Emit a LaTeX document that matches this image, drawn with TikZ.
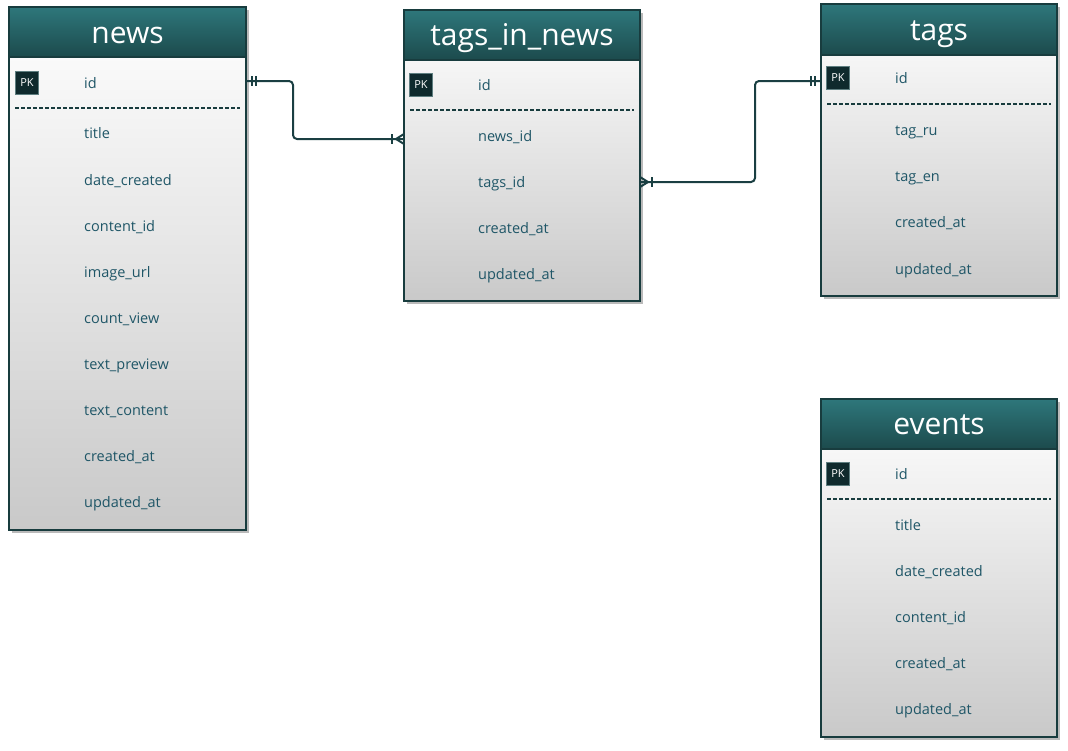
\documentclass[tikz,border=0pt]{standalone}
\usepackage{fontspec}
\setmainfont{Open Sans}
\usetikzlibrary{shadows}
\definecolor{hdtop}{HTML}{2E777B}
\definecolor{hdbot}{HTML}{1C4A4C}
\definecolor{bord}{HTML}{183C3E}
\definecolor{bodybot}{HTML}{C9C9C9}
\definecolor{ftext}{HTML}{1F5667}
\definecolor{pkfill}{HTML}{0F2A2D}
\definecolor{pkbord}{HTML}{5E7E80}
\definecolor{conncol}{HTML}{1A3F42}
\tikzset{
  x=1pt,y=-1pt,
  tbl/.style={rectangle, anchor=north west, inner sep=0pt, outer sep=0pt,
    top color=white, bottom color=bodybot,
    drop shadow={shadow xshift=2.5pt, shadow yshift=-2.5pt, opacity=0.45, fill=black!60}},
  hdr/.style={rectangle, anchor=north west, inner sep=0pt, outer sep=0pt,
    top color=hdtop, bottom color=hdbot},
  htitle/.style={anchor=base, inner sep=0pt, text=white, font=\fontsize{30}{34}\selectfont},
  border/.style={draw=bord, line width=2.2pt},
  hline/.style={draw=bord, line width=1.6pt},
  field/.style={anchor=base west, yshift=-5pt, inner sep=0pt, text=ftext, font=\fontsize{14.5}{16}\selectfont},
  pk/.style={rectangle, draw=pkbord, line width=0.8pt, fill=pkfill, text=white,
    minimum width=23pt, minimum height=23pt, inner sep=0pt, font=\fontsize{11}{12}\selectfont},
  dashsep/.style={draw=bord, line width=1.5pt, dash pattern=on 4pt off 2pt},
  conn/.style={draw=conncol, line width=2pt, rounded corners=4pt},
  tick/.style={draw=conncol, line width=2pt},
}
\begin{document}
\begin{tikzpicture}
\useasboundingbox (0,0) rectangle (1068,750);
% ---------------- news ----------------
\node[tbl, minimum width=237pt, minimum height=523pt] (news) at (9,7) {};
\node[hdr, minimum width=237pt, minimum height=50pt] (newsh) at (9,7) {};
\node[htitle] (newst) at ([yshift=-36pt]newsh.north) {news};
\draw[hline] (newsh.south west) -- (newsh.south east);
\draw[border] (news.north west) rectangle (news.south east);
\node[pk] (newspk) at (27,83) {PK};
\node[field] (newsid) at (84,83) {id};
\draw[dashsep] (15,108) -- (240,108);
\node[field] (news1) at (84,133) {title};
\node[field] (news2) at (84,180) {date\_created};
\node[field] (news3) at (84,226) {content\_id};
\node[field] (news4) at (84,272) {image\_url};
\node[field] (news5) at (84,318) {count\_view};
\node[field] (news6) at (84,364) {text\_preview};
\node[field] (news7) at (84,410) {text\_content};
\node[field] (news8) at (84,456) {created\_at};
\node[field] (news9) at (84,502) {updated\_at};
% ---------------- tags_in_news ----------------
\node[tbl, minimum width=236pt, minimum height=291pt] (tin) at (404,10) {};
\node[hdr, minimum width=236pt, minimum height=50pt] (tinh) at (404,10) {};
\node[htitle] (tint) at ([yshift=-35pt]tinh.north) {tags\_in\_news};
\draw[hline] (tinh.south west) -- (tinh.south east);
\draw[border] (tin.north west) rectangle (tin.south east);
\node[pk] (tinpk) at (421,85) {PK};
\node[field] (tinid) at (478,85) {id};
\draw[dashsep] (410,110) -- (634,110);
\node[field] (tin1) at (478,136) {news\_id};
\node[field] (tin2) at (478,182) {tags\_id};
\node[field] (tin3) at (478,228) {created\_at};
\node[field] (tin4) at (478,274) {updated\_at};
% ---------------- tags ----------------
\node[tbl, minimum width=236pt, minimum height=292pt] (tags) at (821,4) {};
\node[hdr, minimum width=236pt, minimum height=51pt] (tagsh) at (821,4) {};
\node[htitle] (tagst) at ([yshift=-36pt]tagsh.north) {tags};
\draw[hline] (tagsh.south west) -- (tagsh.south east);
\draw[border] (tags.north west) rectangle (tags.south east);
\node[pk] (tagspk) at (838,78) {PK};
\node[field] (tagsid) at (895,78) {id};
\draw[dashsep] (827,104) -- (1051,104);
\node[field] (tags1) at (895,130) {tag\_ru};
\node[field] (tags2) at (895,176) {tag\_en};
\node[field] (tags3) at (895,222) {created\_at};
\node[field] (tags4) at (895,269) {updated\_at};
% ---------------- events ----------------
\node[tbl, minimum width=236pt, minimum height=338pt] (ev) at (821,399) {};
\node[hdr, minimum width=236pt, minimum height=50pt] (evh) at (821,399) {};
\node[htitle] (evt) at ([yshift=-35pt]evh.north) {events};
\draw[hline] (evh.south west) -- (evh.south east);
\draw[border] (ev.north west) rectangle (ev.south east);
\node[pk] (evpk) at (838,474) {PK};
\node[field] (evid) at (895,474) {id};
\draw[dashsep] (827,499) -- (1051,499);
\node[field] (ev1) at (895,525) {title};
\node[field] (ev2) at (895,571) {date\_created};
\node[field] (ev3) at (895,617) {content\_id};
\node[field] (ev4) at (895,663) {created\_at};
\node[field] (ev5) at (895,709) {updated\_at};
% ---------------- connectors ----------------
\coordinate (a1) at ([yshift=2pt]news.east |- newspk);
\coordinate (a2) at ([yshift=2pt]tin.west |- tin1.base);
\draw[conn] (a1) -- ++(47,0) |- (a2);
\draw[tick] ([xshift=6pt]a1) ++(0,-5) -- ++(0,10);
\draw[tick] ([xshift=10pt]a1) ++(0,-5) -- ++(0,10);
\draw[tick] ([xshift=-12pt]a2) ++(0,-5) -- ++(0,10);
\draw[tick] ([xshift=-8pt]a2) -- ++(8,-5);
\draw[tick] ([xshift=-8pt]a2) -- ++(8,5);
\coordinate (b1) at ([yshift=5pt]tin.east |- tin2.base);
\coordinate (b2) at ([yshift=-3pt]tags.west |- tagspk);
\draw[conn] (b1) -- ++(115,0) |- (b2);
\draw[tick] ([xshift=12pt]b1) ++(0,-5) -- ++(0,10);
\draw[tick] ([xshift=8pt]b1) -- ++(-8,-5);
\draw[tick] ([xshift=8pt]b1) -- ++(-8,5);
\draw[tick] ([xshift=-10pt]b2) ++(0,-5) -- ++(0,10);
\draw[tick] ([xshift=-6pt]b2) ++(0,-5) -- ++(0,10);
\end{tikzpicture}
\end{document}
